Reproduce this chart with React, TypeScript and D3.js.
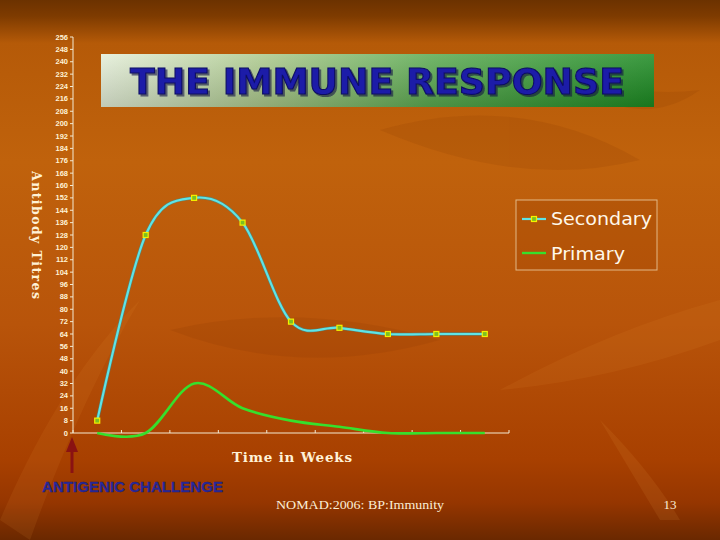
import React from "react";
import * as d3 from "d3";

const weeks = ["0", "1", "2", "3", "4", "5", "6", "7", "8"];
const secondary = [8, 128, 152, 136, 72, 68, 64, 64, 64];
const primary = [0, 0, 32, 16, 8, 4, 0, 0, 0];
const yTickValues = d3.range(0, 257, 8);
const yTickLabels = yTickValues.map((v) => String(v));

const W = 720;
const H = 540;

export default function App() {
  const x = d3.scaleBand<string>().domain(weeks).range([73, 509]).padding(0);
  const y = d3.scaleLinear().domain([0, 256]).range([433, 37]);
  const cx = (i: number) => (x(weeks[i]) as number) + x.bandwidth() / 2;

  const line = d3
    .line<number>()
    .x((_, i) => cx(i))
    .y((d) => y(d))
    .curve(d3.curveCardinal.tension(0));

  const tickXs = weeks.map((w) => x(w) as number).concat([509]);

  return (
    <svg
      width={W}
      height={H}
      style={{ position: "absolute", left: 0, top: 0 }}
      xmlns="http://www.w3.org/2000/svg"
    >
      <defs>
        <linearGradient id="bg" x1="0" y1="0" x2="0" y2="1">
          <stop offset="0" stopColor="#6c3200" />
          <stop offset="0.03" stopColor="#7e3b00" />
          <stop offset="0.08" stopColor="#b55a08" />
          <stop offset="0.3" stopColor="#c0620c" />
          <stop offset="0.6" stopColor="#b8540a" />
          <stop offset="0.85" stopColor="#a84000" />
          <stop offset="0.93" stopColor="#963600" />
          <stop offset="1" stopColor="#6a2800" />
        </linearGradient>
        <linearGradient id="titleGrad" x1="0" y1="0" x2="1" y2="0">
          <stop offset="0" stopColor="#e4eed8" />
          <stop offset="0.3" stopColor="#aac88a" />
          <stop offset="0.6" stopColor="#5aaa50" />
          <stop offset="1" stopColor="#1c8a22" />
        </linearGradient>
        <linearGradient id="titleShade" x1="0" y1="0" x2="0" y2="1">
          <stop offset="0" stopColor="#ffffff" stopOpacity="0.15" />
          <stop offset="1" stopColor="#000000" stopOpacity="0.15" />
        </linearGradient>
        <filter id="shadow" x="-5%" y="-20%" width="110%" height="150%">
          <feDropShadow dx="2" dy="2" stdDeviation="0.6" floodColor="#0a0a40" floodOpacity="0.6" />
        </filter>
      </defs>

      <rect x={0} y={0} width={W} height={H} fill="url(#bg)" />
      {/* faint leaf decorations */}
      <g opacity={0.12}>
        <path d="M 380 130 Q 520 90 640 160 Q 520 190 380 130 Z" fill="#7a2e00" />
        <path d="M 170 330 Q 300 300 440 340 Q 300 380 170 330 Z" fill="#7a2e00" />
        <path d="M 500 390 Q 610 330 720 300 L 720 340 Q 610 380 500 390 Z" fill="#e08a30" />
        <path d="M 0 520 Q 60 380 140 300 Q 80 400 30 540 Z" fill="#e08a30" />
        <path d="M 600 420 Q 650 470 680 520 L 660 520 Q 630 470 600 420 Z" fill="#e89a40" />
        <path d="M 540 60 Q 620 100 700 90 Q 630 140 540 60 Z" fill="#7a2e00" />
      </g>

      {/* title box */}
      <rect x={101} y={54} width={553} height={53} fill="url(#titleGrad)" />
      <rect x={101} y={54} width={553} height={53} fill="url(#titleShade)" />
      <text
        x={130}
        y={94}
        fontFamily="DejaVu Sans"
        fontWeight="bold"
        fontSize={35}
        fill="#1a1aa8"
        stroke="#0c0c60"
        strokeWidth={1}
        textLength={494}
        lengthAdjust="spacingAndGlyphs"
        filter="url(#shadow)"
      >
        THE IMMUNE RESPONSE
      </text>

      {/* y axis */}
      <line x1={73} x2={73} y1={y(256)} y2={y(0)} stroke="#f3ead2" strokeWidth={1} />
      {yTickValues.map((v, i) => (
        <g key={v}>
          <line x1={70} x2={73} y1={y(v)} y2={y(v)} stroke="#f3ead2" strokeWidth={1} />
          <text
            x={68}
            y={y(v) + 2.6}
            textAnchor="end"
            fontFamily="Liberation Sans"
            fontWeight="bold"
            fontSize={7.5}
            fill="#fff2d6"
          >
            {yTickLabels[i]}
          </text>
        </g>
      ))}

      {/* x axis */}
      <line x1={73} x2={509} y1={y(0)} y2={y(0)} stroke="#f3ead2" strokeWidth={1} />
      {tickXs.map((tx, i) => (
        <line key={i} x1={tx} x2={tx} y1={y(0)} y2={y(0) - 3} stroke="#f3ead2" strokeWidth={1} />
      ))}

      {/* axis titles */}
      <text
        transform="translate(32,235) rotate(90)"
        textAnchor="middle"
        fontFamily="DejaVu Serif"
        fontWeight="bold"
        fontSize={12.5}
        fill="#fff2d6"
        textLength={128}
        lengthAdjust="spacing"
      >
        Antibody Titres
      </text>
      <text
        x={292}
        y={462}
        textAnchor="middle"
        fontFamily="DejaVu Serif"
        fontWeight="bold"
        fontSize={13.5}
        fill="#fff2d6"
        textLength={120}
        lengthAdjust="spacing"
      >
        Time in Weeks
      </text>

      {/* primary series */}
      <path d={line(primary) as string} fill="none" stroke="#36e02c" strokeWidth={2.6} />

      {/* secondary series */}
      <path d={line(secondary) as string} fill="none" stroke="#2a9aa8" strokeWidth={3.4} opacity={0.6} />
      <path d={line(secondary) as string} fill="none" stroke="#5ee4e6" strokeWidth={2.2} />
      {secondary.map((v, i) => (
        <rect
          key={i}
          x={cx(i) - 2.5}
          y={y(v) - 2.5}
          width={5}
          height={5}
          fill="#7cc020"
          stroke="#f4f000"
          strokeWidth={1.2}
        />
      ))}

      {/* legend */}
      <rect x={516} y={200} width={141} height={70} fill="#9a3e00" fillOpacity={0.25} stroke="#f0d8b0" strokeOpacity={0.75} strokeWidth={1} />
      <line x1={522} x2={546} y1={219} y2={219} stroke="#5ee4e6" strokeWidth={2.2} />
      <rect x={531.5} y={216.5} width={5} height={5} fill="#7cc020" stroke="#f4f000" strokeWidth={1.2} />
      <text x={551} y={225} fontFamily="DejaVu Sans" fontSize={17} fill="#fff8ea" textLength={101} lengthAdjust="spacingAndGlyphs">
        Secondary
      </text>
      <line x1={522} x2={546} y1={253} y2={253} stroke="#36e02c" strokeWidth={2.4} />
      <text x={551} y={260} fontFamily="DejaVu Sans" fontSize={17} fill="#fff8ea" textLength={74} lengthAdjust="spacingAndGlyphs">
        Primary
      </text>

      {/* antigenic challenge arrow */}
      <line x1={72} x2={72} y1={450} y2={473} stroke="#8a1212" strokeWidth={3} />
      <path d="M 72 437 L 66 452 L 78 452 Z" fill="#8a1212" />
      <text
        x={42}
        y={492}
        fontFamily="Liberation Sans"
        fontWeight="bold"
        fontSize={15}
        fill="#2a2aa0"
        stroke="#1a1a70"
        strokeWidth={0.4}
        textLength={181}
        lengthAdjust="spacingAndGlyphs"
      >
        ANTIGENIC CHALLENGE
      </text>

      {/* footer */}
      <text x={360} y={509} textAnchor="middle" fontFamily="Liberation Serif" fontSize={13} fill="#fbeed6" textLength={168} lengthAdjust="spacingAndGlyphs">
        NOMAD:2006: BP:Immunity
      </text>
      <text x={670} y={509} textAnchor="middle" fontFamily="Liberation Serif" fontSize={13} fill="#fbeed6">
        13
      </text>
    </svg>
  );
}
